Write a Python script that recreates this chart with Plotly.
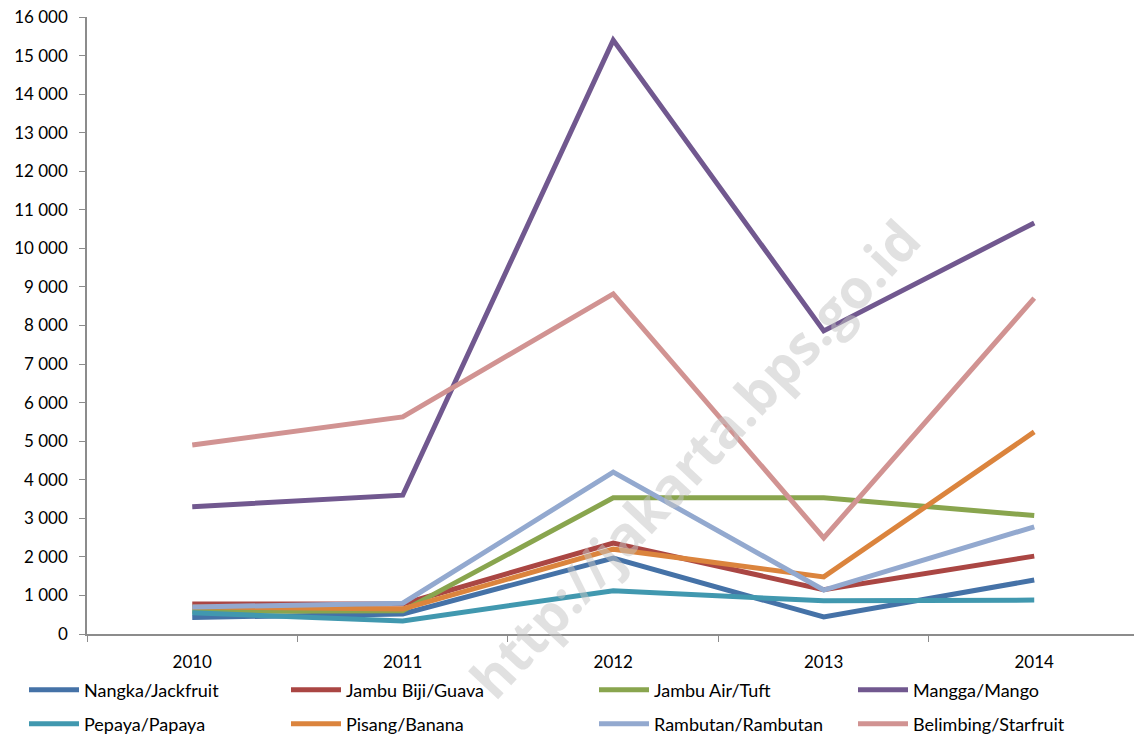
import plotly.graph_objects as go

years = ["2010", "2011", "2012", "2013", "2014"]

nangka = [430, 520, 1970, 440, 1400]
jambu_biji = [780, 780, 2360, 1150, 2020]
jambu_air = [590, 600, 3530, 3530, 3070]
mangga = [3300, 3600, 15400, 7860, 10660]
pepaya = [550, 340, 1120, 860, 880]
pisang = [700, 650, 2200, 1480, 5240]
rambutan = [700, 800, 4200, 1140, 2780]
belimbing = [4900, 5630, 8820, 2490, 8710]

series_names = ["Nangka/Jackfruit", "Jambu Biji/Guava", "Jambu Air/Tuft", "Mangga/Mango",
                "Pepaya/Papaya", "Pisang/Banana", "Rambutan/Rambutan", "Belimbing/Starfruit"]
series_values = [nangka, jambu_biji, jambu_air, mangga, pepaya, pisang, rambutan, belimbing]
colors = ["#4572A7", "#AA4643", "#89A54E", "#71588F", "#4198AF", "#DB843D", "#93A9CF", "#D19392"]

tick_vals = list(range(0, 16001, 1000))

font_family = "Lato, Carlito, Calibri, sans-serif"

W, H = 1134, 737
legend_cols_px = [24, 286, 594, 853]
legend_rows_px = [690, 724]

fig = go.Figure()
layout_legends = {}
for i, (name, vals, col) in enumerate(zip(series_names, series_values, colors)):
    key = "legend" if i == 0 else f"legend{i + 1}"
    fig.add_trace(go.Scatter(x=years, y=vals, name=name, mode="lines",
                             line=dict(color=col, width=5), legend=key))
    layout_legends[key] = dict(
        orientation="h", xref="container", yref="container",
        x=legend_cols_px[i % 4] / W, y=1 - legend_rows_px[i // 4] / H,
        xanchor="left", yanchor="middle",
        font=dict(size=18), itemwidth=50, bgcolor="rgba(0,0,0,0)")

fig.update_layout(
    width=W, height=H,
    margin=dict(l=87, r=0, t=17, b=103, autoexpand=False),
    paper_bgcolor="white", plot_bgcolor="white",
    separators=", ",
    font=dict(family=font_family, size=17, color="black"),
    showlegend=True,
    xaxis=dict(type="category", range=[-0.5, 4.474], showgrid=False,
               showline=True, linecolor="#8C8C8C", linewidth=1.5,
               ticks="outside", tickson="boundaries", ticklen=6, tickcolor="#8C8C8C",
               tickfont=dict(size=17), ticklabelstandoff=12),
    yaxis=dict(range=[0, 16000], tickvals=tick_vals, tickformat=",d", showgrid=False,
               showline=True, linecolor="#8C8C8C", linewidth=1.5, zeroline=False,
               ticks="outside", ticklen=6, tickcolor="#8C8C8C", tickfont=dict(size=17),
               ticklabelstandoff=8),
    annotations=[dict(text="<b>http://jakarta.bps.go.id</b>", xref="paper", yref="paper",
                      x=0.58, y=0.285, xanchor="center", yanchor="middle",
                      showarrow=False, textangle=-47,
                      font=dict(size=54, color="rgba(195,195,195,0.5)", family="Open Sans, sans-serif"))],
    **layout_legends,
)

fig.write_html("out.html")
